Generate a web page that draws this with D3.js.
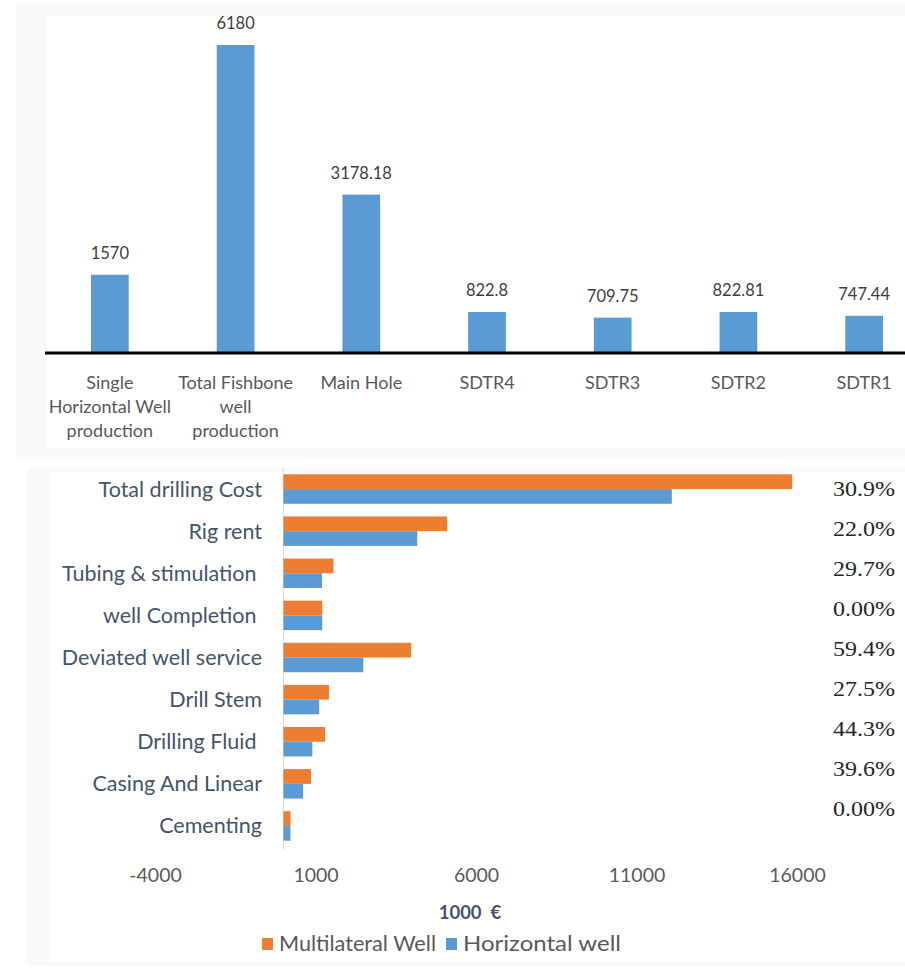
<!DOCTYPE html>
<html>
<head>
<meta charset="utf-8">
<script src="https://cdn.jsdelivr.net/npm/d3@7"></script>
<style>
body { margin: 0; background: #fff; }
svg { display: block; }
</style>
</head>
<body>
<svg id="chart" width="905" height="972"></svg>
<script>
// top chart: production
var prodCats = ["Single|Horizontal Well|production", "Total Fishbone|well|production", "Main Hole", "SDTR4", "SDTR3", "SDTR2", "SDTR1"];
var prodVals = [1570, 6180, 3178.18, 822.8, 709.75, 822.81, 747.44];

// bottom chart: costs (1000 €)
var costCats = ["Total drilling Cost", "Rig rent", "Tubing & stimulation ", "well Completion ", "Deviated well service", "Drill Stem", "Drilling Fluid ", "Casing And Linear", "Cementing"];
var multilateral = [15850, 5100, 1560, 1210, 3980, 1420, 1300, 860, 220];
var horizontal = [12100, 4170, 1203, 1210, 2490, 1114, 901, 616, 220];
var pctLabels = ["30.9%", "22.0%", "29.7%", "0.00%", "59.4%", "27.5%", "44.3%", "39.6%", "0.00%"];
var xTicks = [-4000, 1000, 6000, 11000, 16000];
var seriesNames = ["Multilateral Well", "Horizontal well"];

var blue = "#5b9bd5", orange = "#ed7d31";
var svg = d3.select("#chart");

// panel backgrounds
svg.append("rect").attr("x", 16).attr("y", 5).attr("width", 889).attr("height", 452).attr("fill", "#f9f9f9");
svg.append("rect").attr("x", 47).attr("y", 16).attr("width", 858).attr("height", 432).attr("fill", "#fff");
svg.append("rect").attr("x", 27).attr("y", 468).attr("width", 878).attr("height", 498).attr("fill", "#f9f9f9");
svg.append("rect").attr("x", 50).attr("y", 472).attr("width", 855).attr("height", 490).attr("fill", "#fff");

// ---- top bar chart
var x1 = d3.scaleBand().domain(prodCats).range([47, 927]).paddingInner(0.7).paddingOuter(0.35);
var y1 = d3.scaleLinear().domain([0, 6180]).range([353, 45]);

var gTop = svg.append("g");
gTop.selectAll("rect.bar")
	.data(prodVals)
	.enter()
	.append("rect")
	.attr("class", "bar")
	.attr("x", function(d, i){ return x1(prodCats[i]); })
	.attr("width", x1.bandwidth())
	.attr("y", function(d){ return y1(d); })
	.attr("height", function(d){ return y1(0) - y1(d); })
	.attr("fill", blue);

gTop.selectAll("text.val")
	.data(prodVals)
	.enter()
	.append("text")
	.attr("class", "val")
	.attr("x", function(d, i){ return x1(prodCats[i]) + x1.bandwidth() / 2; })
	.attr("y", function(d){ return y1(d) - 16; })
	.attr("text-anchor", "middle")
	.style("font", "16.5px Lato")
	.attr("fill", "#404040")
	.text(function(d){ return d; });

// baseline
gTop.append("line")
	.attr("x1", 45).attr("x2", 905)
	.attr("y1", y1(0)).attr("y2", y1(0))
	.attr("stroke", "#000").attr("stroke-width", 3);

// category labels (multi-line)
var catText = gTop.selectAll("text.cat")
	.data(prodCats)
	.enter()
	.append("text")
	.attr("class", "cat")
	.attr("text-anchor", "middle")
	.style("font", "18px Lato")
	.attr("fill", "#595959");
catText.each(function(d){
	var t = d3.select(this);
	var cx = x1(d) + x1.bandwidth() / 2;
	d.split("|").forEach(function(line, j){
		t.append("tspan").attr("x", cx).attr("y", 389 + j * 24).text(line);
	});
});

// ---- bottom horizontal bar chart
var x2 = d3.scaleLinear().domain([-4000, 16000]).range([155, 797]);
var y2 = d3.scaleBand().domain(costCats).range([468, 847]).paddingInner(0.3).paddingOuter(0.15);
var y2s = d3.scaleBand().domain([0, 1]).range([0, y2.bandwidth()]);

var gBot = svg.append("g");

gBot.append("line")
	.attr("x1", x2(0)).attr("x2", x2(0))
	.attr("y1", 468).attr("y2", 850)
	.attr("stroke", "#d9d9d9").attr("stroke-width", 1);

var groups = gBot.selectAll("g.grp")
	.data(costCats)
	.enter()
	.append("g")
	.attr("class", "grp")
	.attr("transform", function(d){ return "translate(0," + y2(d) + ")"; });

groups.append("rect")
	.attr("x", x2(0))
	.attr("y", y2s(0))
	.attr("height", y2s.bandwidth())
	.attr("width", function(d, i){ return x2(multilateral[i]) - x2(0); })
	.attr("fill", orange);

groups.append("rect")
	.attr("x", x2(0))
	.attr("y", y2s(1))
	.attr("height", y2s.bandwidth())
	.attr("width", function(d, i){ return x2(horizontal[i]) - x2(0); })
	.attr("fill", blue);

gBot.selectAll("text.lbl")
	.data(costCats)
	.enter()
	.append("text")
	.attr("class", "lbl")
	.attr("x", 262)
	.attr("y", function(d){ return y2(d) + y2.bandwidth() / 2; })
	.attr("dy", "0.35em")
	.attr("text-anchor", "end")
	.style("white-space", "pre")
	.style("font", "21.5px Lato")
	.attr("fill", "#44546a")
	.text(function(d){ return d; });

// percentage column
var yp = d3.scalePoint().domain(costCats).range([489, 809]);
gBot.selectAll("text.pct")
	.data(pctLabels)
	.enter()
	.append("text")
	.attr("class", "pct")
	.attr("x", 833)
	.attr("y", function(d, i){ return yp(costCats[i]); })
	.attr("dy", "0.35em")
	.attr("textLength", 62)
	.attr("lengthAdjust", "spacingAndGlyphs")
	.style("font", "21px 'Liberation Serif'")
	.attr("fill", "#262626")
	.text(function(d){ return d; });

// x axis tick labels
var xAxis = d3.axisBottom(x2).tickValues(xTicks).tickSize(0).tickPadding(0)
	.tickFormat(function(d){ return String(d); });
var xg = gBot.append("g").attr("transform", "translate(0,868)").call(xAxis);
xg.select(".domain").remove();
xg.selectAll("text")
	.style("font", "19.5px Lato")
	.attr("fill", "#595959");

gBot.append("text")
	.attr("x", 470).attr("y", 919)
	.attr("text-anchor", "middle")
	.style("white-space", "pre")
	.style("font", "bold 18.5px Lato")
	.attr("fill", "#44546a")
	.text("1000  €");

// legend
var legend = gBot.append("g").attr("transform", "translate(262,938)");
var legX = [0, 184];
var legC = [orange, blue];
legend.selectAll("rect")
	.data(seriesNames)
	.enter()
	.append("rect")
	.attr("x", function(d, i){ return legX[i]; })
	.attr("y", 0)
	.attr("width", 11).attr("height", 12)
	.attr("fill", function(d, i){ return legC[i]; });
legend.selectAll("text")
	.data(seriesNames)
	.enter()
	.append("text")
	.attr("x", function(d, i){ return legX[i] + 17; })
	.attr("y", 6)
	.attr("dy", "0.35em")
	.attr("textLength", function(d, i){ return i === 0 ? 157 : 158; })
	.attr("lengthAdjust", "spacingAndGlyphs")
	.style("font", "21px Lato")
	.attr("fill", "#595959")
	.text(function(d){ return d; });
</script>
</body>
</html>
